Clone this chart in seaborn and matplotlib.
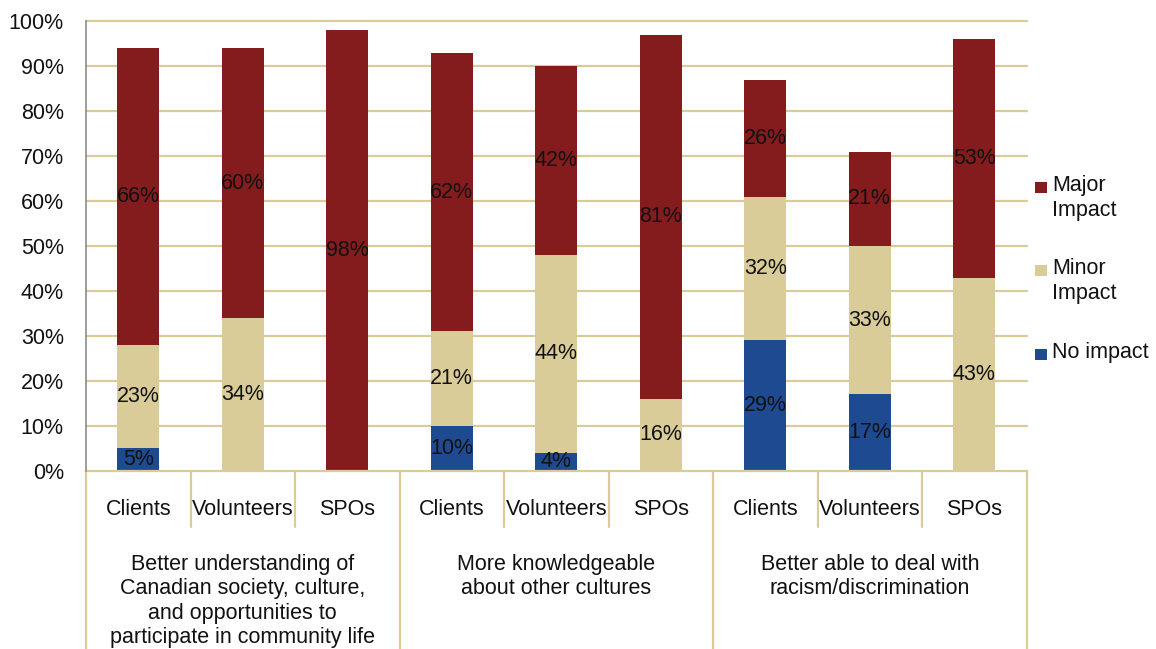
import matplotlib
matplotlib.use("Agg")
import matplotlib.pyplot as plt
from matplotlib.patches import Rectangle
import seaborn as sns
import pandas as pd

# Survey results (percent of respondents) by outcome and respondent type
groups = [
    "Better understanding of\nCanadian society, culture,\nand opportunities to\nparticipate in community life",
    "More knowledgeable\nabout other cultures",
    "Better able to deal with\nracism/discrimination",
]
respondents = ["Clients", "Volunteers", "SPOs"]

no_impact = [5, 0, 0, 10, 4, 0, 29, 17, 0]
minor_impact = [23, 34, 0, 21, 44, 16, 32, 33, 43]
major_impact = [66, 60, 98, 62, 42, 81, 26, 21, 53]

series_names = ["Major\nImpact", "Minor\nImpact", "No impact"]
colors = {"major": "#841B1D", "minor": "#D9CC98", "none": "#1E4A91"}
grid_color = "#D9CC98"
text_color = "#111111"
fs = 15.5

sns.set_theme(style="white")
plt.rcParams["font.family"] = ["Liberation Sans", "DejaVu Sans"]

keys = [f"{g}-{r}" for g in range(len(groups)) for r in respondents]
df = pd.DataFrame({
    "key": keys,
    "none": no_impact,
    "minor": minor_impact,
    "major": major_impact,
})
df["lower"] = df["none"]
df["middle"] = df["none"] + df["minor"]
df["upper"] = df["none"] + df["minor"] + df["major"]

fig = plt.figure(figsize=(11.56, 6.49), dpi=100)
ax = fig.add_axes([0.0744, 0.2743, 0.8136, 0.6933])

# Stacked bars drawn as overlapping cumulative layers
for col, c in [("upper", colors["major"]), ("middle", colors["minor"]), ("lower", colors["none"])]:
    sns.barplot(data=df, x="key", y=col, order=keys, color=c, width=0.4,
                saturation=1, linewidth=0, errorbar=None, ax=ax, zorder=2)

ax.set_xlim(-0.5, len(keys) - 0.5)
ax.set_ylim(0, 100)
ax.set_yticks(range(0, 101, 10))
ax.set_yticklabels([f"{v}%" for v in range(0, 101, 10)], fontsize=fs, color=text_color)
ax.tick_params(axis="y", length=0, pad=16)
ax.set_xticks([])
ax.set_xlabel("")
ax.set_ylabel("")
for v in range(10, 101, 10):
    ax.axhline(v, color=grid_color, linewidth=1.6, zorder=0.5, clip_on=False)
for s in ["top", "right"]:
    ax.spines[s].set_visible(False)
ax.spines["left"].set_color("#8C8C8C")
ax.spines["left"].set_linewidth(1.2)
ax.spines["left"].set_zorder(3)
ax.spines["bottom"].set_color(grid_color)
ax.spines["bottom"].set_linewidth(1.6)

# Value labels centred in each segment
for i in range(len(keys)):
    base = 0
    for val in (no_impact[i], minor_impact[i], major_impact[i]):
        if val > 0:
            ax.text(i, base + val / 2, f"{val}%", ha="center", va="center",
                    fontsize=fs, color=text_color, zorder=4)
        base += val

# Two-level category axis
trans = ax.get_xaxis_transform()
for i, k in enumerate(keys):
    ax.text(i, -0.085, respondents[i % 3], transform=trans, ha="center",
            va="center", fontsize=fs, color=text_color)
for x in [0.5, 1.5, 3.5, 4.5, 6.5, 7.5]:
    ax.plot([x, x], [0, -0.124], transform=trans, color=grid_color,
            linewidth=1.6, clip_on=False)
for x in [-0.5, 2.5, 5.5, 8.5]:
    ax.plot([x, x], [0, -0.40], transform=trans, color=grid_color,
            linewidth=1.6, clip_on=False)
for g, label in enumerate(groups):
    ax.text(3 * g + 1, -0.185, label, transform=trans, ha="center", va="top",
            fontsize=fs, color=text_color, linespacing=1.2)

# Legend
legend_rows = [(series_names[0], colors["major"], 187),
               (series_names[1], colors["minor"], 270),
               (series_names[2], colors["none"], 354)]
W, H = 1156, 649
for name, c, ypx in legend_rows:
    fig.patches.append(Rectangle((1035 / W, 1 - (ypx + 6) / H), 12 / W, 11 / H,
                                 transform=fig.transFigure, facecolor=c,
                                 edgecolor="none"))
    fig.text(1052 / W, 1 - (ypx - 12) / H, name, ha="left", va="top",
             fontsize=fs, color=text_color, linespacing=1.28)

fig.savefig("out.png", dpi=100)
